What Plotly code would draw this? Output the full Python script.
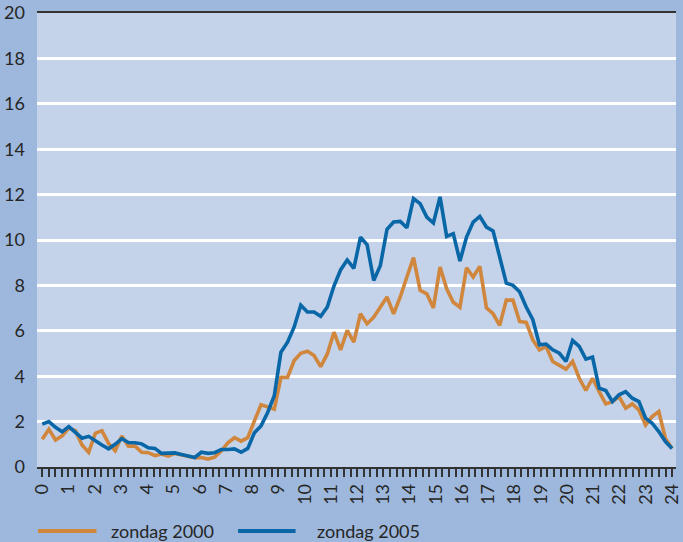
import plotly.graph_objects as go

# quarter-hour slots, 96 values drawn across hours 0..24
n_slots = 96
hour_labels = [str(h) for h in range(25)]

zondag_2000 = [
    1.22, 1.66, 1.19, 1.37, 1.71, 1.60, 0.97, 0.65, 1.48, 1.60, 1.04, 0.72,
    1.37, 0.92, 0.92, 0.65, 0.63, 0.50, 0.57, 0.48, 0.60, 0.55, 0.46, 0.41,
    0.42, 0.35, 0.43, 0.70, 1.07, 1.29, 1.14, 1.29, 2.03, 2.74, 2.65, 2.55,
    3.95, 3.95, 4.69, 5.01, 5.10, 4.91, 4.42, 4.98, 5.94, 5.16, 6.02, 5.50,
    6.75, 6.31, 6.60, 7.04, 7.49, 6.75, 7.49, 8.37, 9.22, 7.78, 7.63, 7.01,
    8.81, 7.85, 7.26, 7.04, 8.78, 8.37, 8.84, 7.01, 6.75, 6.24, 7.35, 7.35,
    6.41, 6.37, 5.60, 5.16, 5.31, 4.65, 4.46, 4.31, 4.65, 3.91, 3.37, 3.91,
    3.32, 2.78, 2.88, 3.10, 2.59, 2.78, 2.51, 1.85, 2.22, 2.44, 1.26, 0.82,
]

zondag_2005 = [
    1.89, 2.00, 1.75, 1.55, 1.78, 1.50, 1.27, 1.35, 1.15, 0.97, 0.80, 1.00,
    1.25, 1.08, 1.07, 1.02, 0.85, 0.82, 0.60, 0.60, 0.62, 0.55, 0.48, 0.42,
    0.65, 0.60, 0.63, 0.77, 0.77, 0.80, 0.65, 0.82, 1.51, 1.81, 2.40, 3.14,
    5.06, 5.50, 6.17, 7.13, 6.83, 6.83, 6.64, 7.05, 7.97, 8.68, 9.12, 8.75,
    10.13, 9.79, 8.22, 8.88, 10.47, 10.79, 10.82, 10.54, 11.82, 11.60, 11.01, 10.75,
    11.90, 10.16, 10.28, 9.07, 10.13, 10.79, 11.04, 10.57, 10.40, 9.25, 8.10, 8.00,
    7.72, 7.05, 6.49, 5.38, 5.41, 5.16, 5.01, 4.65, 5.57, 5.31, 4.75, 4.84,
    3.47, 3.37, 2.88, 3.18, 3.32, 3.03, 2.88, 2.15, 1.93, 1.56, 1.12, 0.82,
]

series_names = ["zondag 2000", "zondag 2005"]
series_colors = ["#d0863c", "#0a67a7"]

x_vals = [i * 24 / (n_slots - 1) for i in range(n_slots)]

FONT = "Lato, Liberation Sans, Arial, sans-serif"
TXT = "#262626"
FS = 18

fig = go.Figure()
for name, vals, col in zip(series_names, [zondag_2000, zondag_2005], series_colors):
    fig.add_trace(go.Scatter(x=x_vals, y=vals, mode="lines", name=name,
                             line=dict(color=col, width=3.6), showlegend=False,
                             hoverinfo="skip"))

W, H = 683, 542
ml, mr, mt, mb = 37, 1, 13, 75
pw, ph = W - ml - mr, H - mt - mb

def px_x(p):
    return (p - ml) / pw

def px_y(p):
    return (H - mb - p) / ph

# custom legend
legend_items = [(38, 97, 110), (240, 298, 318)]
shapes = []
annotations = []
for (x0, x1, tx), name, col in zip(legend_items, series_names, series_colors):
    shapes.append(dict(type="line", xref="paper", yref="paper",
                       x0=px_x(x0), x1=px_x(x1), y0=px_y(531), y1=px_y(531),
                       line=dict(color=col, width=4)))
    annotations.append(dict(xref="paper", yref="paper", x=px_x(tx), y=px_y(531),
                            text=name, showarrow=False, xanchor="left", yanchor="middle",
                            font=dict(family=FONT, size=FS, color=TXT)))

fig.update_layout(
    width=W, height=H,
    margin=dict(l=ml, r=mr, t=mt, b=mb),
    paper_bgcolor="#9db8dc",
    plot_bgcolor="#c4d3ea",
    font=dict(family=FONT, size=FS, color=TXT),
    shapes=shapes,
    annotations=annotations,
    xaxis=dict(
        range=[-0.2, 24.15],
        tickmode="array",
        tickvals=list(range(25)),
        ticktext=hour_labels,
        tickangle=-90,
        ticklabeloverflow="allow",
        ticks="outside", ticklen=8, tickwidth=1.5, tickcolor="#333333",
        minor=dict(ticks="outside", dtick=0.25, tick0=0, ticklen=8, tickwidth=1.5,
                   tickcolor="#333333", showgrid=False),
        showgrid=False, zeroline=False,
        showline=True, linecolor="#333333", linewidth=1.5, mirror=True,
        tickfont=dict(family=FONT, size=FS, color=TXT),
    ),
    yaxis=dict(
        range=[0, 20],
        tickvals=list(range(0, 21, 2)),
        showgrid=True, gridcolor="#ffffff", gridwidth=2.5,
        zeroline=False, showline=False, ticks="",
        ticklabelstandoff=11,
        tickfont=dict(family=FONT, size=FS, color=TXT),
    ),
)

fig.write_html(
    "out.html",
    config={"displayModeBar": False},
    post_script="document.body.style.margin='0';document.body.style.overflow='hidden';",
)
